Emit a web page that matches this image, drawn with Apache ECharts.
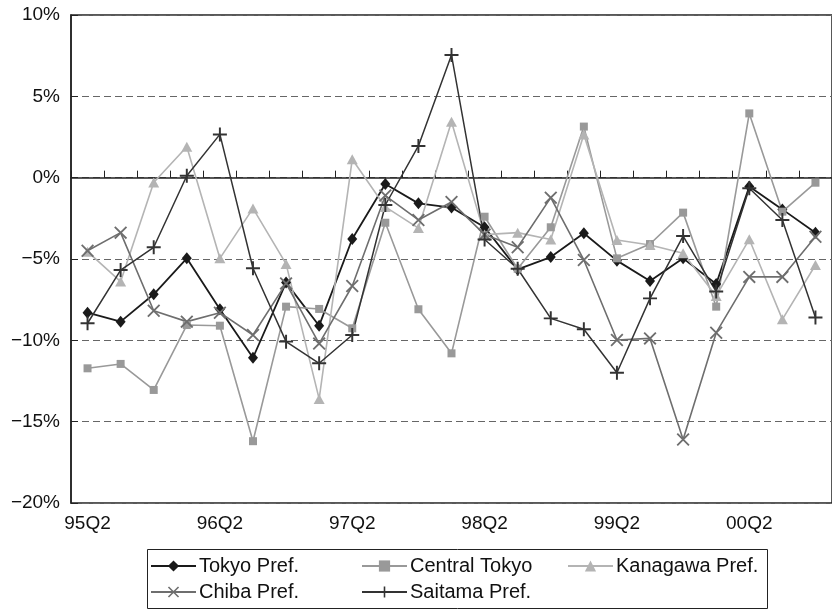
<!DOCTYPE html>
<html>
<head>
<meta charset="utf-8">
<script src="https://cdn.jsdelivr.net/npm/echarts@6/dist/echarts.min.js"></script>
<style>html,body{margin:0;padding:0;background:#fff;}#c{width:832px;height:611px;}</style>
</head>
<body>
<div id="c"></div>
<script>
const categories = ['95Q2','95Q3','95Q4','96Q1','96Q2','96Q3','96Q4','97Q1','97Q2','97Q3','97Q4','98Q1','98Q2','98Q3','98Q4','99Q1','99Q2','99Q3','99Q4','00Q1','00Q2','00Q3','00Q4'];
const tokyo    = [-8.30,-8.85,-7.17,-4.96,-8.09,-11.07,-6.45,-9.10,-3.77,-0.39,-1.58,-1.84,-3.05,-5.64,-4.88,-3.42,-5.10,-6.35,-4.96,-6.54,-0.55,-1.95,-3.38];
const central  = [-11.72,-11.45,-13.05,-9.06,-9.10,-16.2,-7.93,-8.07,-9.26,-2.77,-8.09,-10.8,-2.40,-5.60,-3.05,3.14,-4.96,-4.08,-2.15,-7.93,3.95,-2.09,-0.31];
const kanagawa = [-4.55,-6.39,-0.30,1.90,-4.96,-1.89,-5.30,-13.6,1.13,-1.80,-3.10,3.44,-3.50,-3.38,-3.80,2.66,-3.83,-4.14,-4.65,-7.27,-3.79,-8.71,-5.37];
const chiba    = [-4.49,-3.38,-8.18,-8.85,-8.30,-9.67,-6.50,-10.2,-6.66,-1.10,-2.60,-1.50,-3.50,-4.28,-1.23,-5.06,-9.98,-9.88,-16.1,-9.53,-6.10,-6.10,-3.63];
const saitama  = [-8.95,-5.68,-4.28,0.12,2.66,-5.57,-10.08,-11.41,-9.67,-1.68,1.95,7.54,-3.80,-5.60,-8.65,-9.32,-11.99,-7.42,-3.59,-7.00,-0.65,-2.60,-8.59];
const seriesNames = ['Tokyo Pref.','Central Tokyo','Kanagawa Pref.','Chiba Pref.','Saitama Pref.'];

const FONT = "'Liberation Sans Narrow', 'Arial Narrow', 'Liberation Sans', Arial, sans-serif";
const X_PATH = 'path://M0,1 L1,0 L10,9 L9,10 Z M9,0 L10,1 L1,10 L0,9 Z';
const PLUS_PATH = 'path://M4.3,0 L5.7,0 L5.7,4.3 L10,4.3 L10,5.7 L5.7,5.7 L5.7,10 L4.3,10 L4.3,5.7 L0,5.7 L0,4.3 L4.3,4.3 Z';

const styles = [
  {data: tokyo, color: '#1a1a1a', symbol: 'diamond', size: [10, 12], width: 1.8},
  {data: central, color: '#999999', symbol: 'rect', size: 8, width: 1.6},
  {data: kanagawa, color: '#b4b4b4', symbol: 'triangle', size: [11, 10], width: 1.6},
  {data: chiba, color: '#6e6e6e', symbol: X_PATH, size: 13, width: 1.6},
  {data: saitama, color: '#333333', symbol: PLUS_PATH, size: 14, width: 1.5}
];

const series = styles.map((s, i) => ({
  name: seriesNames[i],
  type: 'line',
  data: s.data,
  symbol: s.symbol,
  symbolSize: s.size,
  showAllSymbol: true,
  lineStyle: {color: s.color, width: s.width},
  itemStyle: {color: s.color},
  animation: false
}));

const legendPos = [
  {left: 150, top: 556},
  {left: 361, top: 556},
  {left: 567, top: 556},
  {left: 150, top: 582},
  {left: 361, top: 582}
];
const legends = seriesNames.map((n, i) => ({
  data: [n],
  left: legendPos[i].left,
  top: legendPos[i].top,
  orient: 'horizontal',
  itemWidth: 45,
  itemHeight: 14,
  itemGap: 0,
  padding: 0,
  selectedMode: false,
  textStyle: {fontFamily: FONT, fontSize: 20, color: '#111', padding: [0, 0, 0, -2]}
}));

const chart = echarts.init(document.getElementById('c'), null, {renderer: 'canvas'});
chart.setOption({
  animation: false,
  backgroundColor: '#fff',
  grid: {left: 71, top: 15, width: 769, height: 488, show: true, borderColor: '#222', borderWidth: 1.5, backgroundColor: 'transparent'},
  legend: legends,
  graphic: [{type: 'rect', left: 145, top: 547, shape: {width: 620, height: 59}, style: {fill: 'none', stroke: '#222', lineWidth: 1}, silent: true}],
  xAxis: {
    type: 'category',
    data: categories,
    boundaryGap: true,
    axisLine: {lineStyle: {color: '#222', width: 1.5}},
    axisTick: {show: true, inside: true, length: 7, interval: 0, lineStyle: {color: '#222', width: 1}},
    axisLabel: {interval: 3, margin: 11, fontFamily: FONT, fontSize: 19, color: '#111'},
    splitLine: {show: false}
  },
  yAxis: {
    type: 'value',
    min: -20, max: 10, interval: 5,
    axisLine: {show: true, lineStyle: {color: '#222', width: 1.5}},
    axisTick: {show: true, inside: true, length: 7, lineStyle: {color: '#222'}},
    axisLabel: {margin: 11, fontFamily: FONT, fontSize: 19, color: '#111',
      formatter: v => (v < 0 ? '\u2212' + Math.abs(v) : String(v)) + '%'},
    splitLine: {show: true, lineStyle: {color: '#666', width: 1, type: [7, 4]}}
  },
  series: series
});
</script>
</body>
</html>
